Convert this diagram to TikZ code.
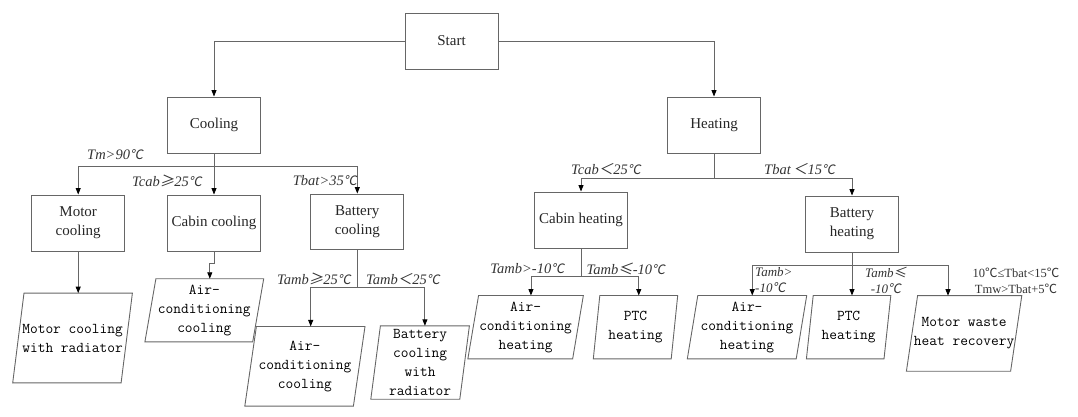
\documentclass[tikz,border=0pt]{standalone}
\usepackage{fontspec}
\setmainfont{Liberation Serif}
\newfontfamily\cjk{Noto Sans CJK SC}
\newfontfamily\cjki[FakeSlant=0.18]{Noto Sans CJK SC}
\usetikzlibrary{arrows.meta,calc}
\newcommand\dc{{\cjk ℃}}
\newcommand\idc{{\cjki\fontsize{13}{13}\selectfont ℃}}
\newcommand\ige{{\cjki ≥}}
\newcommand\ile{{\cjki ≤}}
\newcommand\ilt{{\cjki ＜}}
\newcommand\pgram[7]{%
  \node[ptext, minimum width=#4pt, minimum height=#5pt] (#1) at (#2,#3) {#7};
  \draw[line] ($(#1.south west)+(-#6/2,0)$) -- ($(#1.south east)+(-#6/2,0)$)
     -- ($(#1.north east)+(#6/2,0)$) -- ($(#1.north west)+(#6/2,0)$) -- cycle;
  \coordinate (#1t) at ($(#1.north)+(#6/2,0)$);}
\begin{document}
\begin{tikzpicture}[x=1pt,y=-1pt,
  line/.style={draw=black!60, line width=0.9pt},
  arr/.style={line, -{Triangle[length=6.5pt,width=5pt,color=black]}},
  rbox/.style={line, rectangle, minimum width=93pt, minimum height=56pt, align=center,
     font=\fontsize{15}{19}\selectfont, text=black!85, inner sep=0pt},
  ptext/.style={inner sep=0pt, align=center, font=\ttfamily\fontsize{15}{19}\selectfont, text=black},
  cond/.style={inner sep=0pt, font=\itshape\fontsize{14.5}{16}\selectfont, text=black!80},
  smallcond/.style={inner sep=0pt, font=\itshape\fontsize{13}{15.5}\selectfont, text=black!80},
  upcond/.style={inner sep=0pt, font=\fontsize{12.5}{16.5}\selectfont, text=black!80}]
\useasboundingbox (0,0) rectangle (1078,417);
% rectangles
\node[rbox] (start) at (451.5,41) {Start};
\node[rbox] (cool) at (214,125) {Cooling};
\node[rbox] (heat) at (714,125) {Heating};
\node[rbox] (mc) at (78.2,223) {Motor\\cooling};
\node[rbox] (cc) at (214,223) {Cabin cooling};
\node[rbox, minimum height=55pt] (bc) at (357.3,221.5) {Battery\\cooling};
\node[rbox] (ch) at (581,220) {Cabin heating};
\node[rbox] (bh) at (852,224) {Battery\\heating};
% parallelograms
\pgram{p1}{72.55}{338}{108}{89.4}{11.3}{Motor cooling\\with radiator}
\pgram{p2}{204.3}{310.3}{107.4}{62.7}{11}{Air-\\conditioning\\cooling}
\pgram{p3}{304.9}{366.3}{108.2}{79.3}{11.6}{Air-\\conditioning\\cooling}
\pgram{p4}{420.1}{362.5}{88.6}{73}{9.6}{Battery\\cooling\\with\\radiator}
\pgram{p5}{525.6}{327.2}{104.4}{63}{10.7}{Air-\\conditioning\\heating}
\pgram{p6}{635.5}{327.2}{77.5}{63}{6.5}{PTC\\heating}
\pgram{p7}{747}{327.2}{108.5}{63}{10.5}{Air-\\conditioning\\heating}
\pgram{p8}{848.6}{327.2}{77.2}{63}{6.8}{PTC\\heating}
\pgram{p9}{964.1}{333.4}{103.8}{75.3}{11.2}{Motor waste\\heat recovery}
\coordinate (p9in) at (948,295.7);
% start
\draw[arr] (start.west) -| (cool.north);
\draw[arr] (start.east) -| (heat.north);
% cooling
\coordinate (cbus) at (214,166.7);
\draw[line] (cool.south) -- (cbus);
\draw[arr] (cbus) -| (mc.north);
\draw[arr] (cbus) -- (cc.north);
\draw[arr] (cbus) -| (bc.north);
\draw[arr] (mc.south) -- (mc.south |- p1t);
\draw[arr] (cc.south) -- ++(0,11.7) -| (p2t);
\coordinate (bcbus) at (357.3,287.7);
\draw[line] (bc.south) -- (bcbus);
\draw[arr] (bcbus) -| (p3t);
\draw[arr] (bcbus) -| (p4t);
% heating
\coordinate (hbus) at (714,178.3);
\draw[line] (heat.south) -- (hbus);
\draw[arr] (hbus) -| (ch.north);
\draw[arr] (hbus) -| (bh.north);
\coordinate (chbus) at (581,276.7);
\draw[line] (ch.south) -- (chbus);
\draw[arr] (chbus) -| (p5t);
\draw[arr] (chbus) -| (p6t);
\coordinate (bhbus) at (852,265);
\draw[line] (bh.south) -- (bhbus);
\draw[arr] (bhbus) -| (p7t);
\draw[arr] (bhbus) -| (p8t);
\draw[arr] (bhbus) -| (p9in);
% conditions
\node[cond, anchor=west] (l1) at (87,155) {Tm>90\idc};
\node[cond, anchor=east] (l2) at (202,181) {Tcab\ige25\idc};
\node[cond, anchor=east] (l3) at (357,181) {Tbat>35\idc};
\node[cond, anchor=east] (l4) at (351,279) {Tamb\ige25\idc};
\node[cond, anchor=west] (l5) at (366,279) {Tamb\ilt25\idc};
\node[cond, anchor=west] (l6) at (571,169.3) {Tcab\ilt25\idc};
\node[cond, anchor=west] (l7) at (764,169.3) {Tbat\,\ilt15\idc};
\node[cond, anchor=east] (l8) at (564.5,269) {Tamb>-10\idc};
\node[cond, anchor=west] (l9) at (586.5,269) {Tamb\ile-10\idc};
\node[smallcond, anchor=west, align=left] (l10) at (755,280.3) {Tamb>\\-10\idc};
\node[smallcond, anchor=west, align=center] (l11) at (865,280.3) {Tamb\ile\\-10\idc};
\node[upcond, align=center] (l12) at (1016,281) {10\dc≤Tbat<15\dc\\Tmw>Tbat+5\dc};
\end{tikzpicture}
\end{document}
